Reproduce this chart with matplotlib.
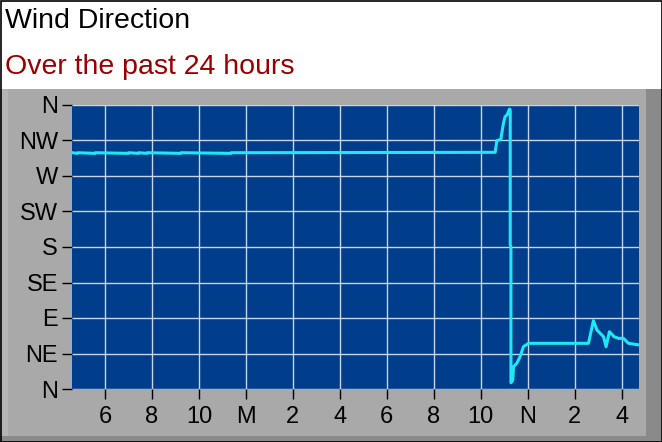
import matplotlib
matplotlib.use("Agg")
import matplotlib.pyplot as plt
from matplotlib.patches import Rectangle

# hours since midnight of the previous day (24 = midnight, 36 = noon)
hours = [16.62, 16.83, 16.85, 17.58, 17.60, 18.99, 19.01, 19.42, 19.44, 19.79, 19.81,
         21.23, 21.25, 23.36, 23.38, 34.61, 34.68, 34.85, 34.96, 35.03, 35.11, 35.22,
         35.25, 35.25, 35.28, 35.28, 35.36, 35.39, 35.53, 35.67, 35.81, 36.03, 38.58,
         38.79, 38.94, 39.22, 39.33, 39.47, 39.67, 39.86, 40.07, 40.28, 40.75]
direction = [299.5, 298.7, 299.5, 298.7, 299.5, 298.7, 299.5, 298.7, 299.5, 298.7, 299.5,
             298.7, 299.5, 298.7, 299.5, 300.0, 314.8, 316.5, 336.8, 345.2, 347.3, 354.9,
             353.7, 182.5, 180.4, 8.0, 11.4, 28.3, 32.6, 41.0, 53.6, 57.9, 57.9,
             86.6, 74.8, 66.3, 53.6, 72.6, 66.3, 64.2, 64.2, 57.9, 55.8]

x_ticks = [18, 20, 22, 24, 26, 28, 30, 32, 34, 36, 38, 40]
x_labels = ['6', '8', '10', 'M', '2', '4', '6', '8', '10', 'N', '2', '4']
y_ticks = [0, 45, 90, 135, 180, 225, 270, 315, 360]
y_labels = ['N', 'NE', 'E', 'SE', 'S', 'SW', 'W', 'NW', 'N']

plt.rcParams['font.family'] = ['Liberation Sans', 'DejaVu Sans']

W, H = 662, 442
fig = plt.figure(figsize=(W / 100, H / 100), dpi=100)
fig.patch.set_facecolor('white')

# grey panel with a simple bevel
fig.patches.append(Rectangle((0, 0), 1, (H - 89) / H, transform=fig.transFigure,
                             facecolor='#a9a9a9', edgecolor='none', zorder=0))
fig.patches.append(Rectangle((0, 0), 8 / W, (H - 89) / H, transform=fig.transFigure,
                             facecolor='#b4b4b4', edgecolor='none', zorder=0))
fig.patches.append(Rectangle((646 / W, 0), 16 / W, (H - 89) / H, transform=fig.transFigure,
                             facecolor='#8a8a8a', edgecolor='none', zorder=0))
fig.patches.append(Rectangle((0, 0), 1, 6 / H, transform=fig.transFigure,
                             facecolor='#8a8a8a', edgecolor='none', zorder=0))
fig.patches.append(Rectangle((0.5 / W, 0.5 / H), 1 - 1 / W, 1 - 1 / H, transform=fig.transFigure,
                             facecolor='none', edgecolor='black', linewidth=1.2, zorder=5))

fig.text(5 / W, 1 - 28 / H, 'Wind Direction', fontsize=20.5, color='black')
fig.text(5 / W, 1 - 74 / H, 'Over the past 24 hours', fontsize=20.5, color='#990000')

ax = fig.add_axes([72 / W, 53 / H, 567 / W, 284 / H])
ax.set_zorder(3)
ax.set_facecolor('#003d8a')
ax.plot(hours, direction, color='#1ee8f5', linewidth=2.2, solid_joinstyle='round', zorder=3)

ax.set_xlim(16.6, 40.73)
ax.set_ylim(0, 360)
ax.set_xticks(x_ticks)
ax.set_xticklabels(x_labels)
ax.set_yticks(y_ticks)
ax.set_yticklabels(y_labels)
ax.grid(True, color='#c6d6f0', linewidth=1.0, zorder=1)
ax.tick_params(axis='both', length=7, width=1, color='black', labelsize=17,
               labelcolor='black')
ax.tick_params(axis='y', pad=3)
ax.tick_params(axis='x', pad=5)
for s in ax.spines.values():
    s.set_visible(False)

fig.savefig('out.png', dpi=100, facecolor=fig.get_facecolor())
